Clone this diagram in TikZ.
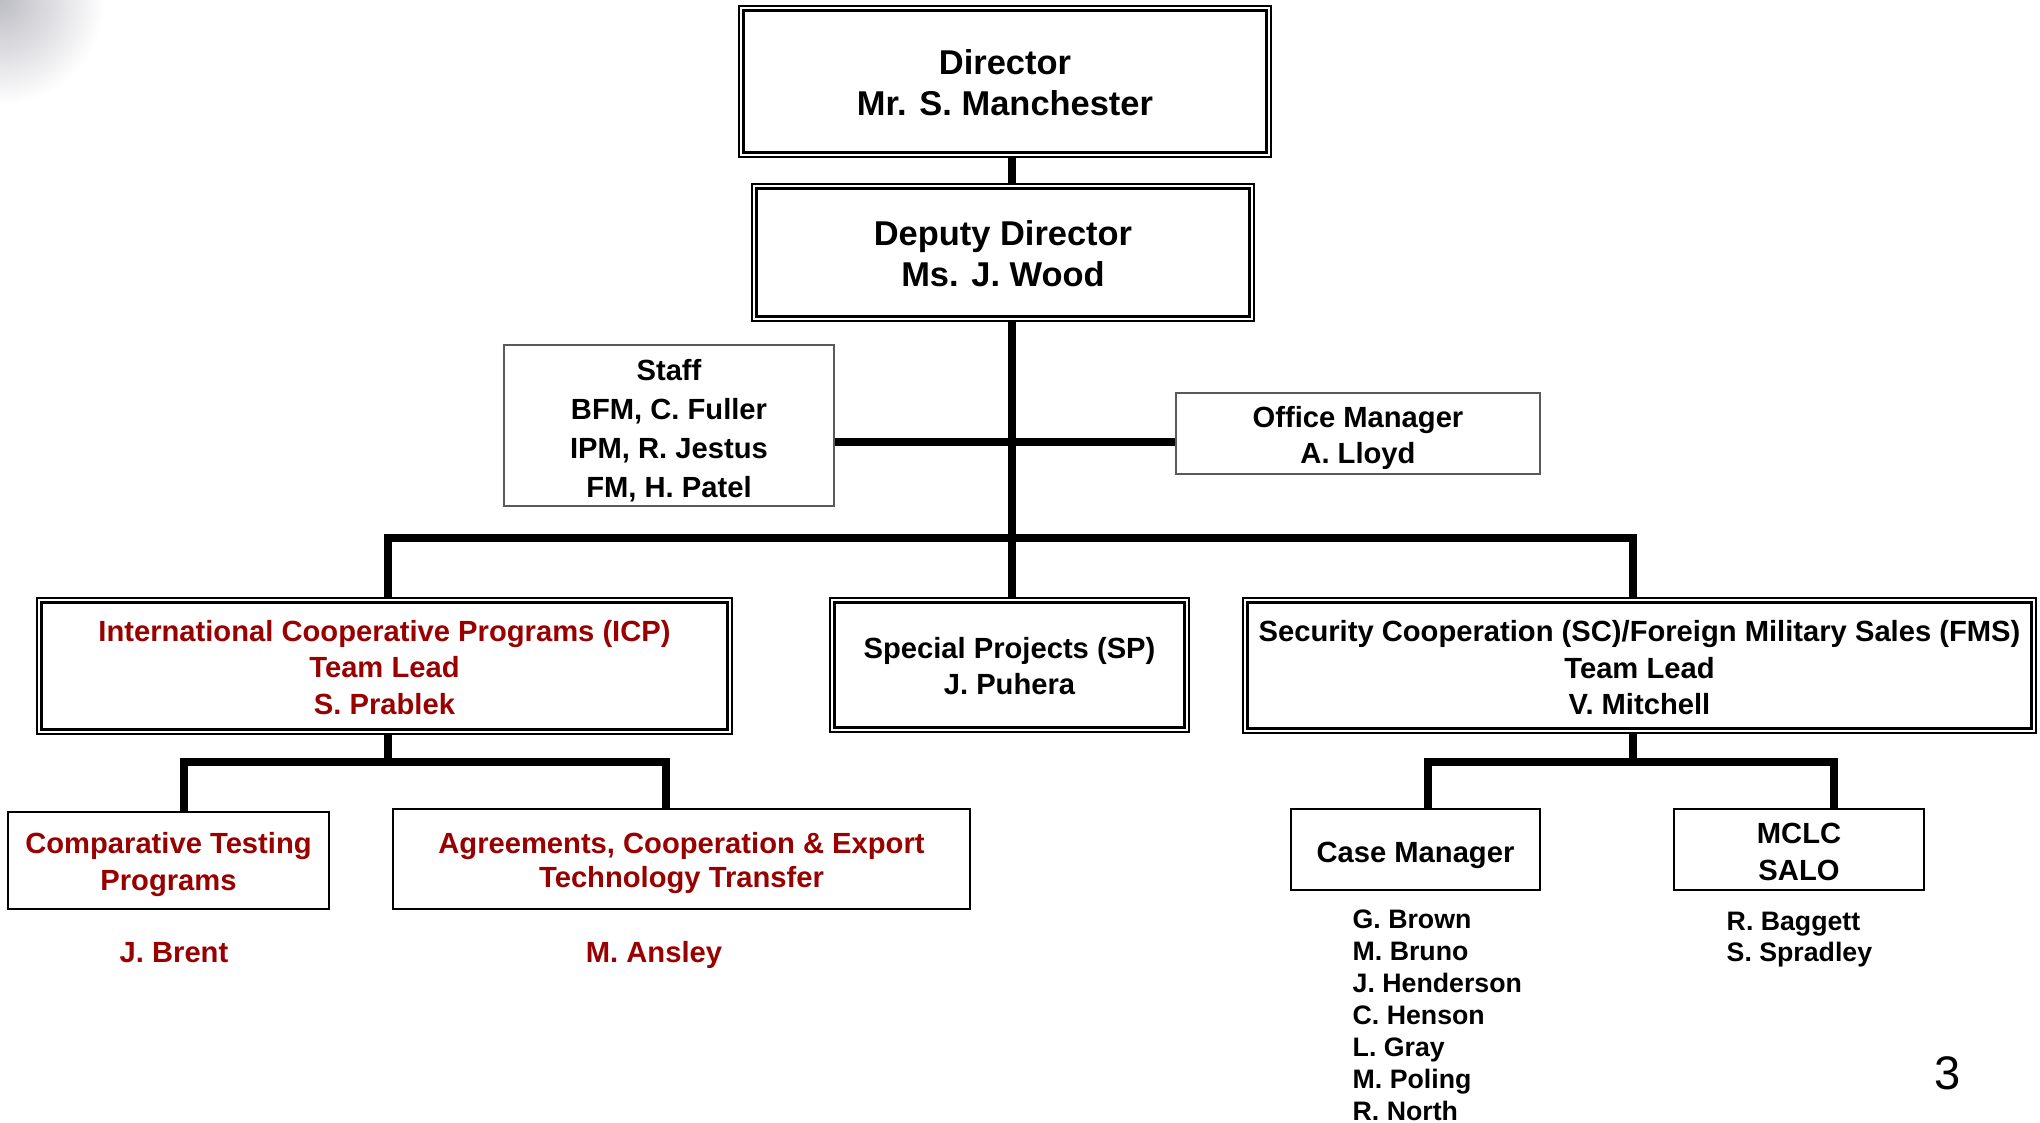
\documentclass[tikz,border=0pt]{standalone}
\usepackage{fontspec}
\setmainfont{Liberation Sans}
\usepackage{tikz}
\definecolor{cred}{HTML}{990000}
\definecolor{cframe}{HTML}{5A5A5A}
\definecolor{cshade}{HTML}{BCBCC4}
\tikzset{
  blk/.style={draw,align=center,inner sep=0pt,font=\bfseries\fontsize{8.3}{10.3}\selectfont},
  dbl/.style={blk,line width=0.5pt},
  sgl/.style={blk,line width=0.6pt},
  lite/.style={blk,draw=cframe,line width=0.4pt},
  conn/.style={line width=2.2pt},
}
\newcommand{\topgap}[1]{\rule{0pt}{#1}}

\begin{document}
\begin{tikzpicture}[
  big/.style={font=\bfseries\fontsize{9.8}{11.8}\selectfont},
  red/.style={text=cred},
  who/.style={inner sep=0pt,font=\bfseries\fontsize{8.3}{10.3}\selectfont},
  lst/.style={align=left,anchor=north west,inner sep=0pt,font=\bfseries\fontsize{7.6}{9.1}\selectfont},
]
\useasboundingbox (0,0) rectangle (20.4,-11.22);

% ================= corner shade =================
\begin{scope}
  \clip (0,0) rectangle (2.4,-2.0);
  \shade[inner color=cshade, outer color=white] (0,0) circle (1.05);
\end{scope}

% ================= top =================
\node[dbl, big, minimum width=5.32cm, minimum height=1.51cm] (dir) at (10.05,-0.815)
  {\topgap{7.9pt}Director\\Mr. S. Manchester};
\node[dbl, big, minimum width=5.02cm, minimum height=1.37cm] (dep) at (10.03,-2.525)
  {\topgap{7.9pt}Deputy Director\\Ms. J. Wood};

\node[lite, font=\bfseries\fontsize{8.3}{11.1}\selectfont, minimum width=3.30cm, minimum height=1.61cm] (staff) at (6.69,-4.255)
  {\topgap{9pt}Staff\\BFM, C. Fuller\\IPM, R. Jestus\\FM, H. Patel};
\node[lite, minimum width=3.64cm, minimum height=0.81cm] (om) at (13.58,-4.335)
  {\topgap{8.6pt}Office Manager\\A. Lloyd};

% ================= teams =================
\node[dbl, red, minimum width=6.95cm, minimum height=1.36cm] (icp) at (3.845,-6.66)
  {\topgap{6.8pt}International Cooperative Programs (ICP)\\Team Lead\\S. Prablek};
\node[dbl, minimum width=3.59cm, minimum height=1.34cm] (sp) at (10.095,-6.65)
  {\topgap{6.8pt}Special Projects (SP)\\J. Puhera};
\node[dbl, minimum width=7.93cm, minimum height=1.35cm] (sc) at (16.395,-6.655)
  {\topgap{7.2pt}Security Cooperation (SC)/Foreign Military Sales (FMS)\\Team Lead\\V. Mitchell};

\foreach \n in {dir,dep,icp,sp,sc}{
  \draw[line width=0.85pt] ([shift={(1.4pt,-1.4pt)}]\n.north west) rectangle ([shift={(-1.4pt,1.4pt)}]\n.south east);
}

% ================= sub units =================
\node[sgl, red, minimum width=3.21cm, minimum height=0.97cm] (ctp) at (1.685,-8.605)
  {\topgap{8.3pt}Comparative Testing\\Programs};
\node[sgl, red, font=\bfseries\fontsize{8.3}{9.7}\selectfont, minimum width=5.77cm, minimum height=1.00cm] (agr) at (6.815,-8.59)
  {\topgap{8.3pt}Agreements, Cooperation \& Export\\Technology Transfer};
\node[sgl, minimum width=2.49cm, minimum height=0.81cm] (case) at (14.155,-8.495)
  {\topgap{9pt}Case Manager};
\node[sgl, minimum width=2.50cm, minimum height=0.81cm] (mclc) at (17.99,-8.495)
  {\topgap{7.2pt}MCLC\\SALO};

\node[who, red] (brent) at (1.74,-9.525) {J. Brent};
\node[who, red] (ansley) at (6.54,-9.55) {M. Ansley};
\node[lst] (cmlist) at (13.52,-9.095)
  {G. Brown\\M. Bruno\\J. Henderson\\C. Henson\\L. Gray\\M. Poling\\R. North};
\node[lst, font=\bfseries\fontsize{7.6}{8.9}\selectfont] (salolist) at (17.26,-9.115)
  {R. Baggett\\S. Spradley};

\node[font=\fontsize{13.4}{16}\selectfont, inner sep=0pt] (pgnum) at (19.48,-10.73) {3};

% ================= connectors =================
\coordinate (spine) at (10.12,0);
\coordinate (bus) at (0,-5.38);
\coordinate (staffln) at (0,-4.42);
\coordinate (icpx) at (3.88,0);
\coordinate (scx) at (16.33,0);
\coordinate (subbus) at (0,-7.62);
\coordinate (ctpx) at (1.84,0);
\coordinate (agrx) at (6.66,0);
\coordinate (casex) at (14.28,0);
\coordinate (mclcx) at (18.34,0);

\draw[conn] (dir.south -| spine) -- (dep.north -| spine);
\draw[conn] (dep.south -| spine) -- (sp.north -| spine);
\draw[conn] (staff.east |- staffln) -- (om.west |- staffln);
\draw[conn] (icp.north -| icpx) -- (icpx |- bus) -- (scx |- bus) -- (sc.north -| scx);

\draw[conn] (icp.south -| icpx) -- (icpx |- subbus);
\draw[conn] (ctp.north -| ctpx) -- (ctpx |- subbus) -- (agrx |- subbus) -- (agr.north -| agrx);
\draw[conn] (sc.south -| scx) -- (scx |- subbus);
\draw[conn] (case.north -| casex) -- (casex |- subbus) -- (mclcx |- subbus) -- (mclc.north -| mclcx);
\end{tikzpicture}
\end{document}
